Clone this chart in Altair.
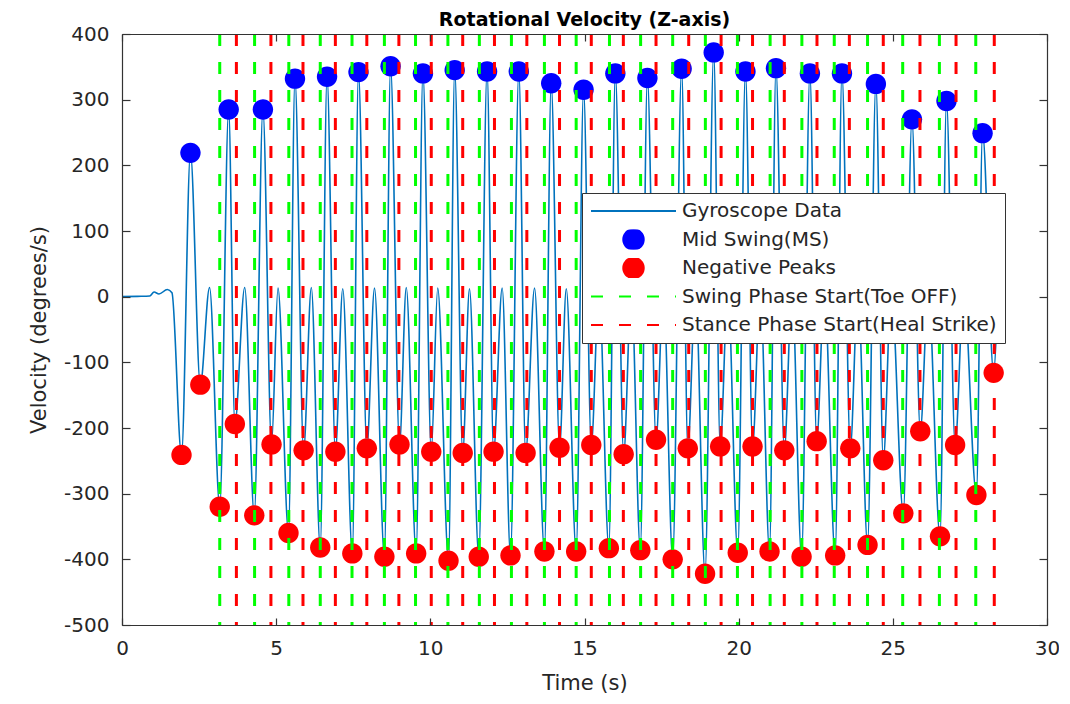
import altair as alt
import pandas as pd

# ---------------- data ----------------
x_ticks = [0, 5, 10, 15, 20, 25, 30]
y_ticks = [-500, -400, -300, -200, -100, 0, 100, 200, 300, 400]

series = ["Gyroscope Data", "Mid Swing(MS)", "Negative Peaks",
          "Swing Phase Start(Toe OFF)", "Stance Phase Start(Heal Strike)"]
series_colors = ["#0072BD", "#0000FF", "#FF0000", "#00FF00", "#FF0000"]

# Mid swing (positive) peaks
ms_t = [2.22, 3.46, 4.57, 5.61, 6.65, 7.67, 8.71, 9.76, 10.79, 11.84, 12.87, 13.92,
        14.97, 16.00, 17.04, 18.15, 19.19, 20.22, 21.21, 22.31, 23.35, 24.45, 25.62,
        26.74, 27.91]
ms_v = [219, 285, 285, 332, 335, 342, 351, 340, 345, 343, 343, 325,
        315, 340, 333, 347, 372, 343, 348, 340, 340, 324, 270,
        298, 249]

# Negative peaks
neg_t = [1.93, 2.54, 3.17, 3.66, 4.29, 4.85, 5.40, 5.89, 6.43, 6.92, 7.47, 7.94,
         8.51, 9.00, 9.54, 10.03, 10.59, 11.05, 11.57, 12.05, 12.60, 13.09, 13.70,
         14.19, 14.73, 15.22, 15.79, 16.27, 16.81, 17.32, 17.86, 18.35, 18.91, 19.40,
         19.97, 20.45, 21.00, 21.48, 22.04, 22.53, 23.13, 23.62, 24.18, 24.69, 25.34,
         25.89, 26.53, 27.02, 27.71, 28.27]
neg_v = [-241, -134, -320, -194, -333, -225, -360, -234, -382, -236, -391, -231,
         -396, -225, -391, -236, -402, -238, -396, -236, -394, -238, -388,
         -230, -388, -226, -383, -240, -386, -218, -400, -231, -422, -228,
         -390, -228, -388, -234, -396, -220, -394, -231, -378, -249, -330,
         -205, -365, -226, -302, -116]

# Swing phase start (toe off) and stance phase start (heel strike) times
swing_t = [3.17, 4.30, 5.41, 6.43, 7.46, 8.51, 9.52, 10.57, 11.59, 12.63, 13.70, 14.73,
           15.81, 16.82, 17.86, 18.92, 19.96, 21.02, 22.05, 23.10, 24.18, 25.32, 26.51, 27.69]
stance_t = [3.71, 4.83, 5.87, 6.92, 7.94, 8.98, 10.03, 11.05, 12.08, 13.13, 14.19, 15.22,
            16.26, 17.32, 18.38, 19.43, 20.45, 21.48, 22.54, 23.59, 24.69, 25.88, 27.05, 28.29]

# Gyroscope trace: quiet start, small stance bumps, tail
start_t = [0.0, 0.5, 0.9, 1.04, 1.20, 1.47, 1.62]
start_v = [0, 0.5, 1, 7, 4, 11, 6]
bump_t = [2.84, 3.98, 5.06, 6.14, 7.16, 8.19, 9.22, 10.24, 11.27, 12.33, 13.38, 14.41,
          15.47, 16.52, 17.56, 18.60, 19.65, 20.70, 21.73, 22.78, 23.87, 24.95, 26.15, 27.30]
bump_v = [14, 14, 13, 14, 12, 13, 14, 13, 12, 13, 13, 12,
          12, 12, 12, 12, 12, 12, 12, 12, 12, 12, 12, 12]
end_t = [28.38]
end_v = [-30]

# ---------------- tables ----------------
gyro_df = pd.DataFrame({
    "t": start_t + ms_t + neg_t + bump_t + end_t,
    "v": start_v + ms_v + neg_v + bump_v + end_v,
}).sort_values("t")
gyro_df["series"] = series[0]
ms_df = pd.DataFrame({"t": ms_t, "v": ms_v, "series": series[1]})
neg_df = pd.DataFrame({"t": neg_t, "v": neg_v, "series": series[2]})
swing_df = pd.DataFrame({"t": swing_t, "series": series[3]})
stance_df = pd.DataFrame({"t": stance_t, "series": series[4]})

# ---------------- styling ----------------
W, H = 925, 591
F = "DejaVu Sans"
TXT = "#262626"
AX = "#333333"
LINE = "M-1,0L1,0"
CIRC = "M-0.24,0A0.24,0.24,0,1,0,0.24,0A0.24,0.24,0,1,0,-0.24,0Z"
HYPHEN = "replace(toString(datum.value), '\u2212', '-')"

xs = alt.Scale(domain=[0, 30], nice=False, zero=False)
ys = alt.Scale(domain=[-500, 400], nice=False, zero=False)
cs = alt.Scale(domain=series, range=series_colors)
ss = alt.Scale(domain=series, range=[LINE, CIRC, CIRC, LINE, LINE])
ds = alt.Scale(domain=series, range=[[1, 0], [1, 0], [1, 0], [12, 16], [12, 16]])

leg = alt.Legend(title=None, orient="none", legendX=460, legendY=159, direction="vertical",
                 fillColor="white", strokeColor=AX, padding=8, cornerRadius=0,
                 rowPadding=8.5, clipHeight=20, symbolSize=7225, symbolStrokeWidth=2,
                 labelOffset=5, labelLimit=800, labelFont=F, labelFontSize=20,
                 labelColor=TXT, zindex=2, symbolOpacity=1)

ax_x_main = alt.Axis(orient="bottom", values=x_ticks, ticks=False, tickSize=0, domain=True,
                     domainColor=AX, domainWidth=1.2, labelFont=F, labelFontSize=20,
                     labelColor=TXT, labelPadding=13, title="Time (s)", titleFont=F,
                     titleFontSize=21, titleFontWeight="normal", titleColor=TXT,
                     titlePadding=14, grid=False, zindex=1, labelFlush=False,
                     labelExpr=HYPHEN)
ax_y_main = alt.Axis(orient="left", values=y_ticks, ticks=False, tickSize=0, domain=True,
                     domainColor=AX, domainWidth=1.2, labelFont=F, labelFontSize=20,
                     labelColor=TXT, labelPadding=13, title="Velocity (degrees/s)",
                     titleFont=F, titleFontSize=21, titleFontWeight="normal",
                     titleColor=TXT, titlePadding=14, grid=False, zindex=1, labelFlush=False,
                     labelExpr=HYPHEN)
# inward ticks on bottom / left edges
ax_x_in_bottom = alt.Axis(orient="top", offset=-H, values=x_ticks, ticks=True, tickSize=7,
                          tickColor=AX, tickWidth=1.2, labels=False, domain=False, title=None,
                          grid=False, zindex=1)
ax_y_in_left = alt.Axis(orient="right", offset=-W, values=y_ticks, ticks=True, tickSize=8,
                        tickColor=AX, tickWidth=1.2, labels=False, domain=False, title=None,
                        grid=False, zindex=1)
# box: top / right edges with inward ticks
ax_x_top = alt.Axis(orient="bottom", offset=-H, values=x_ticks, ticks=True, tickSize=7,
                    tickColor=AX, tickWidth=1.2, labels=False, domain=True, domainColor=AX,
                    domainWidth=1.2, title=None, grid=False, zindex=1)
ax_y_right = alt.Axis(orient="left", offset=-W, values=y_ticks, ticks=True, tickSize=8,
                      tickColor=AX, tickWidth=1.2, labels=False, domain=True, domainColor=AX,
                      domainWidth=1.2, title=None, grid=False, zindex=1)

color = alt.Color("series:N", scale=cs, legend=leg)
shape = alt.Shape("series:N", scale=ss, legend=leg)
dash = alt.StrokeDash("series:N", scale=ds, legend=leg)

line = alt.Chart(gyro_df).mark_line(strokeWidth=1.6, interpolate="monotone", clip=True).encode(
    x=alt.X("t:Q", scale=xs, axis=ax_x_main),
    y=alt.Y("v:Q", scale=ys, axis=ax_y_main),
    color=color,
)
ms_pts = alt.Chart(ms_df).mark_point(filled=True, size=7225, opacity=1, strokeWidth=0).encode(
    x=alt.X("t:Q", scale=xs, axis=ax_x_in_bottom),
    y=alt.Y("v:Q", scale=ys, axis=ax_y_in_left),
    color=color, shape=shape,
)
neg_pts = alt.Chart(neg_df).mark_point(filled=True, size=7225, opacity=1, strokeWidth=0).encode(
    x=alt.X("t:Q", scale=xs, axis=ax_x_top),
    y=alt.Y("v:Q", scale=ys, axis=ax_y_right),
    color=color, shape=shape,
)
sw_rules = alt.Chart(swing_df).mark_rule(strokeWidth=3).encode(
    x=alt.X("t:Q", scale=xs, axis=None),
    y=alt.Y(datum=400, scale=ys, axis=None),
    y2=alt.Y2(datum=-500),
    color=color, strokeDash=dash,
)
st_rules = alt.Chart(stance_df).mark_rule(strokeWidth=3).encode(
    x=alt.X("t:Q", scale=xs, axis=None),
    y=alt.Y(datum=400, scale=ys, axis=None),
    y2=alt.Y2(datum=-500),
    color=color, strokeDash=dash,
)

chart = alt.layer(line, ms_pts, neg_pts, sw_rules, st_rules).resolve_axis(
    x="independent", y="independent"
).properties(
    width=W, height=H,
    title=alt.TitleParams("Rotational Velocity (Z-axis)", font=F, fontSize=19,
                          fontWeight="bold", color="black", anchor="middle", offset=-6),
    padding={"left": 114, "top": 26, "right": 12, "bottom": 71},
    autosize=alt.AutoSizeParams(type="none"),
).configure_view(stroke=None).configure(background="white")

chart.save("out.html", embed_options={"renderer": "svg", "actions": False})
